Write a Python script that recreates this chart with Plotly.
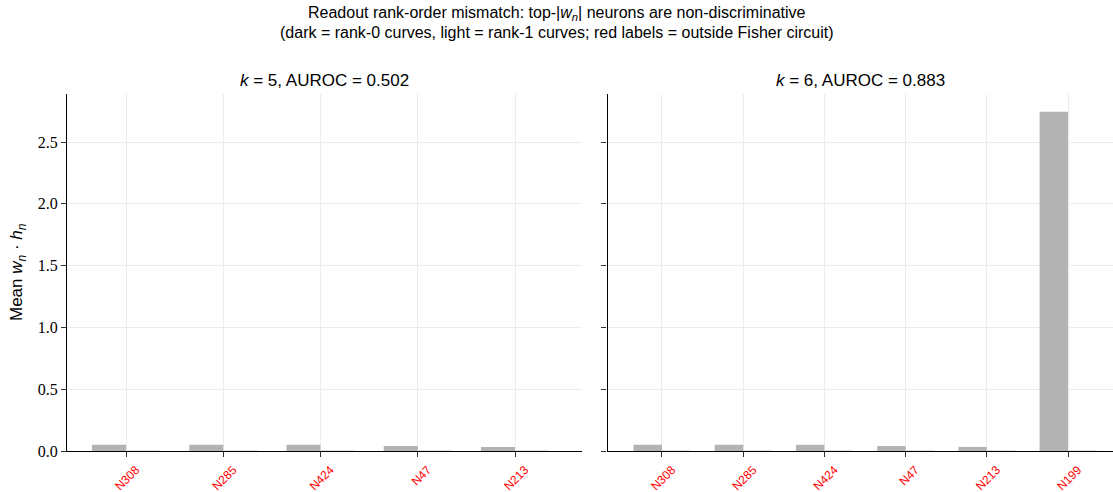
import plotly.graph_objects as go

# ---- data ----
neurons_k5 = ["N308", "N285", "N424", "N47", "N213"]
rank0_k5 = [0.050, 0.050, 0.050, 0.040, 0.033]
rank1_k5 = [0.001, 0.001, 0.008, 0.001, 0.001]

neurons_k6 = ["N308", "N285", "N424", "N47", "N213", "N199"]
rank0_k6 = [0.050, 0.050, 0.050, 0.040, 0.033, 2.745]
rank1_k6 = [0.001, 0.001, 0.008, 0.001, 0.001, 0.001]

panel_titles = ["<i>k</i> = 5, AUROC = 0.502", "<i>k</i> = 6, AUROC = 0.883"]
y_ticks = [0.0, 0.5, 1.0, 1.5, 2.0, 2.5]

W, H = 1113, 492
DARK = "#b3b3b3"
LIGHT = "#e4e4e4"
GRID = "#ececec"
SANS = "Liberation Sans, Arial, sans-serif"
SERIF = "Liberation Serif, DejaVu Serif, serif"

fig = go.Figure()

panels = [
    dict(names=neurons_k5, r0=rank0_k5, r1=rank1_k5, xa="x", ya="y",
         dom=(67, 582), xr=(-0.607, 4.689)),
    dict(names=neurons_k6, r0=rank0_k6, r1=rank1_k6, xa="x2", ya="y2",
         dom=(607.5, 1113), xr=(-0.671, 5.554)),
]

bw = 0.35
for p in panels:
    idx = list(range(len(p["names"])))
    fig.add_trace(go.Bar(x=[i - bw / 2 for i in idx], y=p["r0"], width=bw,
                         marker=dict(color=DARK, line=dict(width=0)),
                         xaxis=p["xa"], yaxis=p["ya"], showlegend=False))
    fig.add_trace(go.Bar(x=[i + bw / 2 for i in idx], y=p["r1"], width=bw,
                         marker=dict(color=LIGHT, line=dict(width=0)),
                         xaxis=p["xa"], yaxis=p["ya"], showlegend=False))

ybot, ytop = 451, 94
ydom = [(H - ybot) / H, (H - ytop) / H]
yrange = [0, (ybot - ytop) / ((451 - 142) / 2.5)]

layout = dict(
    width=W, height=H, margin=dict(l=0, r=0, t=0, b=0, autoexpand=False),
    plot_bgcolor="white", paper_bgcolor="white", barmode="overlay",
    font=dict(family=SANS, color="#000000"),
)

for k, p in enumerate(panels):
    sfx = "" if k == 0 else "2"
    layout["xaxis" + sfx] = dict(
        domain=[p["dom"][0] / W, p["dom"][1] / W], range=list(p["xr"]),
        anchor="y" + sfx, tickmode="array", automargin=False,
        tickvals=list(range(len(p["names"]))), ticktext=p["names"],
        tickangle=-45, tickfont=dict(color="red", size=12, family=SANS),
        ticklabelshift=10, ticklabelstandoff=1,
        ticks="outside", ticklen=5, tickcolor="#333333", tickwidth=1,
        showline=True, linecolor="#000000", linewidth=1.2,
        showgrid=True, gridcolor=GRID, gridwidth=1, zeroline=False,
    )
    layout["yaxis" + sfx] = dict(
        domain=ydom, range=yrange, anchor="x" + sfx, automargin=False,
        tickmode="array", tickvals=y_ticks,
        ticktext=[f"{v:.1f}" for v in y_ticks],
        showticklabels=(k == 0),
        tickfont=dict(family=SERIF, size=16),
        ticks="outside", ticklen=5, tickcolor="#333333", tickwidth=1,
        showline=True, linecolor="#000000", linewidth=1.2,
        showgrid=True, gridcolor=GRID, gridwidth=1, zeroline=False,
    )

annotations = [
    dict(text="Readout rank-order mismatch: top-|<i>w<sub>n</sub></i>| neurons are non-discriminative",
         x=0.5, y=(H - 14) / H, xref="paper", yref="paper", showarrow=False,
         font=dict(size=16), xanchor="center", yanchor="middle"),
    dict(text="(dark = rank-0 curves, light = rank-1 curves; red labels = outside Fisher circuit)",
         x=0.5, y=(H - 32) / H, xref="paper", yref="paper", showarrow=False,
         font=dict(size=16), xanchor="center", yanchor="middle"),
    dict(text="Mean <i>w<sub>n</sub></i> · <i>h<sub>n</sub></i>", textangle=-90,
         x=18 / W, y=(H - 272) / H, xref="paper", yref="paper", showarrow=False,
         font=dict(size=17), xanchor="center", yanchor="middle"),
]
title_cx = [324, 860]
for k in range(2):
    annotations.append(dict(text=panel_titles[k], x=title_cx[k] / W,
                            y=(H - 80) / H, xref="paper", yref="paper",
                            showarrow=False, font=dict(size=17),
                            xanchor="center", yanchor="middle"))
layout["annotations"] = annotations

fig.update_layout(**layout)
fig.write_html(
    "out.html",
    config={"displayModeBar": False},
    post_script="document.body.style.margin='0';document.body.style.overflow='hidden';",
)
